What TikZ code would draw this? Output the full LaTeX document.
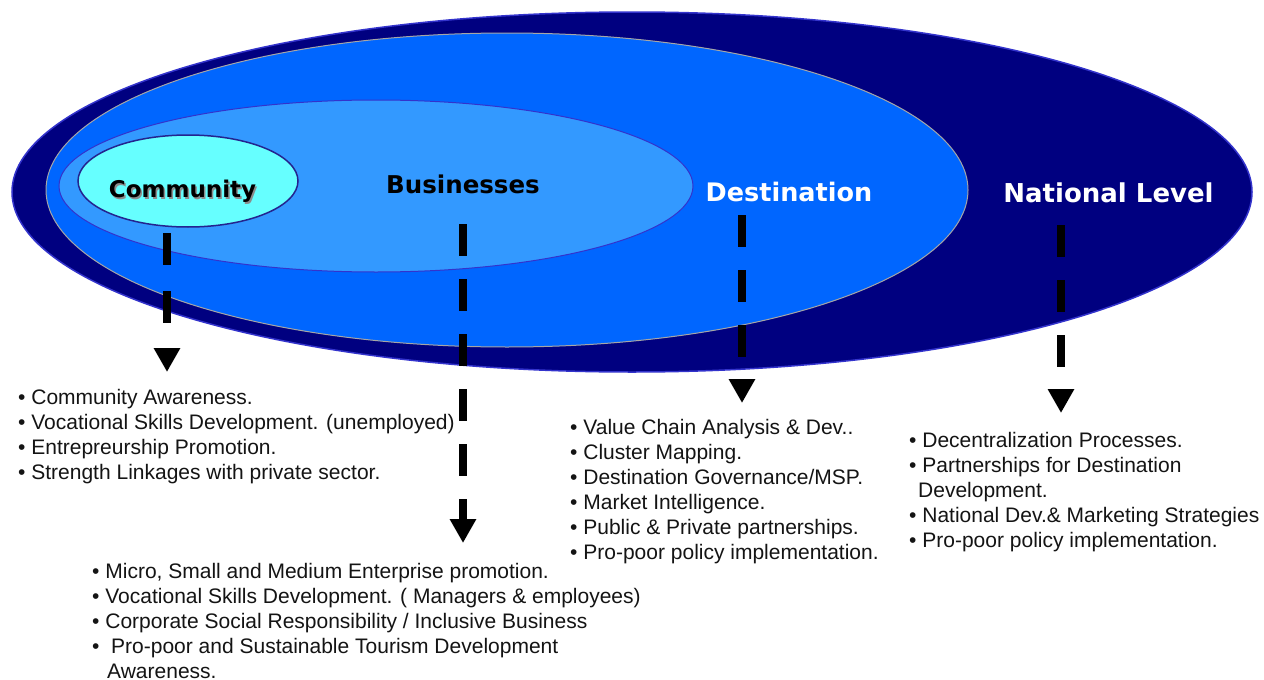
\documentclass[tikz,border=0pt]{standalone}
\usepackage{fontspec}
\setmainfont{Liberation Sans}
\newfontfamily\headfont{DejaVu Sans}
\usetikzlibrary{shapes.geometric,arrows.meta}

\definecolor{navy}{RGB}{0,0,128}
\definecolor{destblue}{RGB}{0,102,255}
\definecolor{busblue}{RGB}{51,153,255}
\definecolor{commcyan}{RGB}{102,255,255}
\definecolor{rimblue}{RGB}{51,51,204}
\definecolor{listtext}{RGB}{20,20,20}

\begin{document}
\begin{tikzpicture}[x=1pt,y=-1pt,
  level/.style={ellipse, inner sep=0pt},
  heading/.style={anchor=base, inner sep=0pt, font=\headfont\bfseries},
  % lists are placed by the baseline of their last line
  bullets/.style={align=left, anchor=base west, inner sep=0pt,
    text=listtext, font=\fontsize{21}{25}\selectfont},
  flow/.style={line width=8pt, dash pattern=on 32pt off 23pt,
    -{Triangle[width=25pt,length=24pt]}}
]
\useasboundingbox[fill=white] (0,0) rectangle (1264,680);

% nested levels, outermost first
\node[level, fill=navy, draw=rimblue, line width=1.5pt,
      minimum width=1240pt, minimum height=360pt] (national) at (632,192) {};
\node[level, fill=destblue, draw=gray!70, line width=1pt,
      minimum width=922pt, minimum height=314pt] (destination) at (507,190) {};
\node[level, fill=busblue, draw=rimblue, line width=1pt,
      minimum width=634pt, minimum height=172pt] (businesses) at (376,186) {};
\node[level, fill=commcyan, draw=rimblue!70!black, line width=1.5pt,
      minimum width=220pt, minimum height=92pt] (community) at (188,181) {};

% level titles
\node[heading, text=black!45, font=\headfont\bfseries\fontsize{23}{28}\selectfont]
  (community-shadow) at (184,199) {Community};
\node[heading, font=\headfont\bfseries\fontsize{23}{28}\selectfont]
  (community-title) at (182.5,197) {Community};
\node[heading, font=\headfont\bfseries\fontsize{24.5}{29}\selectfont]
  (businesses-title) at (463,193) {Businesses};
\node[heading, text=white, font=\headfont\bfseries\fontsize{25.5}{30}\selectfont]
  (destination-title) at (789,201) {Destination};
\node[heading, text=white, font=\headfont\bfseries\fontsize{26}{31}\selectfont]
  (national-title) at (1108.5,202) {National Level};

% arrow end points
\coordinate (c-from) at (167,233);  \coordinate (c-to) at (167,372);
\coordinate (b-from) at (463,224);  \coordinate (b-to) at (463,543);
\coordinate (d-from) at (742,215);  \coordinate (d-to) at (742,403);
\coordinate (n-from) at (1061,225); \coordinate (n-to) at (1061,413);

\draw[flow, dash pattern=on 32pt off 26pt] (c-from) -- (c-to);
\draw[flow] (b-from) -- (b-to);
\draw[flow] (d-from) -- (d-to);
\draw[flow] (n-from) -- (n-to);

% activity lists
\node[bullets] (community-list) at (18,479) {%
  • Community Awareness.\\
  • Vocational Skills Development. (unemployed)\\
  • Entrepreurship Promotion.\\
  • Strength Linkages with private sector.};

\node[bullets] (businesses-list) at (92,678) {%
  • Micro, Small and Medium Enterprise promotion.\\
  • Vocational Skills Development. ( Managers \& employees)\\
  • Corporate Social Responsibility / Inclusive Business\\
  •\ \ Pro-poor and Sustainable Tourism Development\\
  \hspace*{15pt}Awareness.};

\node[bullets] (destination-list) at (570,559) {%
  • Value Chain Analysis \& Dev..\\
  • Cluster Mapping.\\
  • Destination Governance/MSP.\\
  • Market Intelligence.\\
  • Public \& Private partnerships.\\
  • Pro-poor policy implementation.};

\node[bullets] (national-list) at (909,547) {%
  • Decentralization Processes.\\
  • Partnerships for Destination\\
  \hspace*{9pt}Development.\\
  • National Dev.\& Marketing Strategies\\
  • Pro-poor policy implementation.};
\end{tikzpicture}
\end{document}
